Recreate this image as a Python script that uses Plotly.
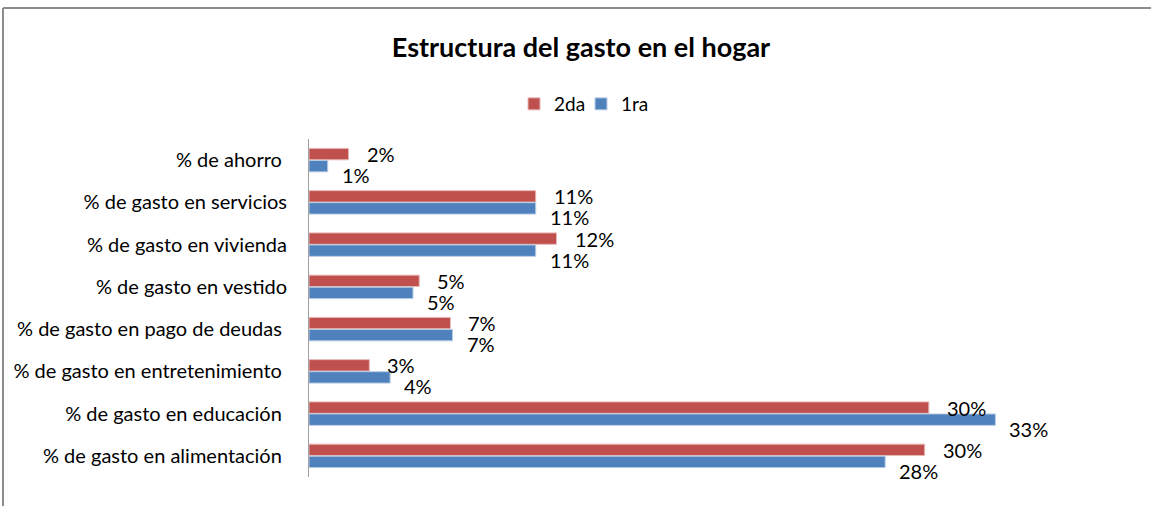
import plotly.graph_objects as go

categories = [
    "% de ahorro ",
    "% de gasto en servicios",
    "% de gasto en vivienda",
    "% de gasto en vestido",
    "% de gasto en pago de deudas ",
    "% de gasto en entretenimiento ",
    "% de gasto en educación ",
    "% de gasto en alimentación ",
]
serie_2da = [1.9, 10.9, 11.9, 5.3, 6.8, 2.9, 29.8, 29.6]
serie_1ra = [0.9, 10.9, 10.9, 5.0, 6.9, 3.9, 33.0, 27.7]
labels_2da = ["2%", "11%", "12%", "5%", "7%", "3%", "30%", "30%"]
labels_1ra = ["1%", "11%", "11%", "5%", "7%", "4%", "33%", "28%"]

W, H = 1151, 506
L, R, T, B = 309, 114, 139, 29
FONT = "Lato, 'Open Sans', sans-serif"

fig = go.Figure()
fig.add_trace(go.Bar(
    y=categories, x=serie_2da, name="2da", orientation="h",
    marker=dict(color="#C0504D", line=dict(color="#E6B9B8", width=1)),
))
fig.add_trace(go.Bar(
    y=categories, x=serie_1ra, name="1ra", orientation="h",
    marker=dict(color="#4F81BD", line=dict(color="#B9CDE5", width=1)),
))

annotations = []
for cat, v, lab in zip(categories, serie_2da, labels_2da):
    annotations.append(dict(x=v, y=cat, xref="x", yref="y", text=lab, showarrow=False,
                            xanchor="left", yanchor="middle", xshift=16, yshift=6,
                            font=dict(family=FONT, size=20, color="#000000")))
for cat, v, lab in zip(categories, serie_1ra, labels_1ra):
    annotations.append(dict(x=v, y=cat, xref="x", yref="y", text=lab, showarrow=False,
                            xanchor="left", yanchor="middle", xshift=12, yshift=-15,
                            font=dict(family=FONT, size=20, color="#000000")))

pw = W - L - R
ph = H - T - B
n = len(categories)
fig.update_layout(
    template="none",
    width=W, height=H,
    margin=dict(l=L, r=R, t=T, b=B, autoexpand=False),
    paper_bgcolor="white", plot_bgcolor="white",
    barmode="group", bargap=0.43, bargroupgap=0.05,
    font=dict(family=FONT, size=20, color="#000000"),
    title=dict(text="<b>Estructura del gasto en el hogar</b>", x=(581 - L) / pw, xref="paper",
               xanchor="center", y=1 - 48 / H, yanchor="middle",
               font=dict(size=27, family=FONT)),
    legend=dict(orientation="h", x=(581 - L) / pw, xanchor="center",
                yref="container", y=1 - 104 / H, yanchor="middle",
                font=dict(size=19), itemwidth=30, entrywidth=22,
                traceorder="normal", bgcolor="rgba(0,0,0,0)"),
    xaxis=dict(range=[0, 35], visible=False, showgrid=False, zeroline=False),
    yaxis=dict(range=[n - 0.5, -0.5], showline=True, linecolor="#A0A0A0", linewidth=1,
               ticks="", showgrid=False, ticklabelstandoff=17, automargin=False,
               tickfont=dict(size=20)),
    showlegend=True,
    annotations=annotations,
    shapes=[
        dict(type="line", xref="paper", yref="paper",
             x0=(3 - L) / pw, x1=(W - L) / pw, y0=1 + (T - 8) / ph, y1=1 + (T - 8) / ph,
             line=dict(color="#8C8C8C", width=2)),
        dict(type="line", xref="paper", yref="paper",
             x0=(3 - L) / pw, x1=(3 - L) / pw, y0=1 + (T - 8) / ph, y1=-B / ph,
             line=dict(color="#8C8C8C", width=2)),
    ],
)

fig.write_html("out.html", config={"displayModeBar": False},
               post_script="document.body.style.margin='0';document.body.style.overflow='hidden';")
